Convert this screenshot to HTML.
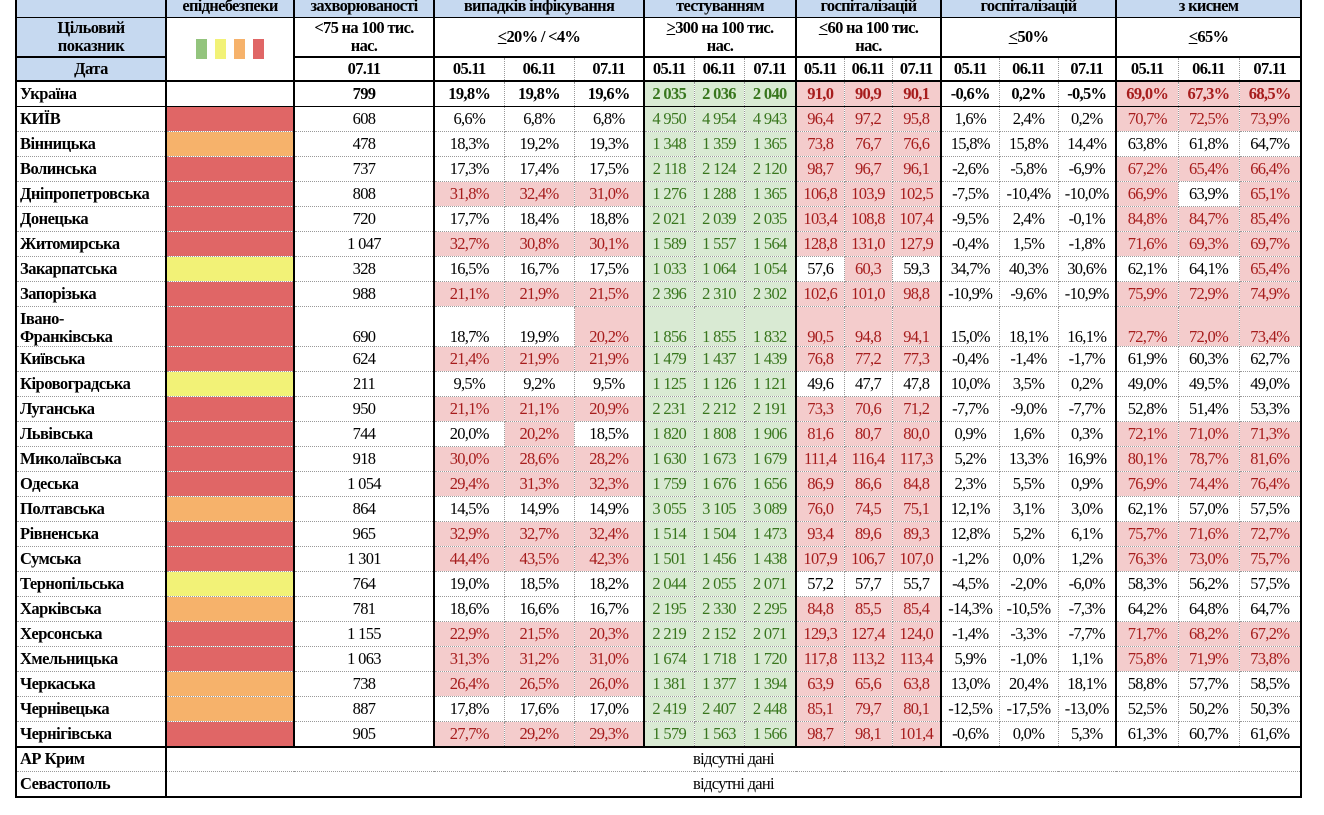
<!DOCTYPE html>
<html><head><meta charset="utf-8"><style>
html,body{margin:0;padding:0;background:#fff;width:1324px;height:815px;overflow:hidden}
table{position:absolute;left:15px;top:-6px;border-collapse:collapse;table-layout:fixed;font-family:"Liberation Serif","DejaVu Serif",serif;font-size:16.5px;letter-spacing:-0.7px;color:#000}
td{padding:0;text-align:center;border:1px dotted #999;white-space:nowrap;overflow:hidden;line-height:18px}
tr{height:25px}
td.n{text-align:left;padding-left:3px;font-weight:bold;border-left:2px solid #000;border-right:2px solid #000;letter-spacing:-0.5px}
.h td{background:#c6d9f0;font-weight:bold;border:1px solid #000;border-left:2px solid #000;border-right:2px solid #000}
.bl{border-left:2px solid #000}
.br{border-right:2px solid #000}
.b{font-weight:bold}
.r{background:#f4cccc;color:#a61c1c}
.g{background:#d9ead3;color:#38761d}
.R{background:#e06666}.O{background:#f6b26b}.Y{background:#f2f277}.G{background:#93c47d}
.hd td{font-weight:bold;border-top:2px solid #000;border-bottom:2px solid #000}
.ua td{border-top:2px solid #000;border-bottom:1px solid #000;font-weight:bold}
.tk td{border-top:2px solid #000}
.last td{border-bottom:2px solid #000}
.blue{background:#c6d9f0}
.sq{display:inline-block;width:11px;height:20px;margin:0 4px;vertical-align:middle}
</style></head><body>
<table>
<colgroup><col style="width:150px"><col style="width:128px"><col style="width:140px"><col style="width:70px"><col style="width:70px"><col style="width:70px"><col style="width:50px"><col style="width:50px"><col style="width:52px"><col style="width:48px"><col style="width:48px"><col style="width:49px"><col style="width:58px"><col style="width:59px"><col style="width:58px"><col style="width:62px"><col style="width:61px"><col style="width:62px"></colgroup>
<tr class="h" style="height:23px"><td></td><td>епіднебезпеки</td><td>захворюваності</td><td colspan="3">випадків інфікування</td><td colspan="3">тестуванням</td><td colspan="3">госпіталізацій</td><td colspan="3">госпіталізацій</td><td colspan="3">з киснем</td></tr>
<tr style="height:39px" class="b"><td class="n blue" style="text-align:center;padding:0;border-bottom:1px solid #000">Цільовий<br>показник</td><td rowspan="2" class="br" style="border-bottom:2px solid #000"><span class="sq G"></span><span class="sq Y"></span><span class="sq O"></span><span class="sq R"></span></td><td class="br b">&lt;75 на 100 тис.<br>нас.</td><td colspan="3" class="br b"><u>&lt;</u>20% / &lt;4%</td><td colspan="3" class="br b"><u>&gt;</u>300 на 100 тис.<br>нас.</td><td colspan="3" class="br b"><u>&lt;</u>60 на 100 тис.<br>нас.</td><td colspan="3" class="br b"><u>&lt;</u>50%</td><td colspan="3" class="br b"><u>&lt;</u>65%</td></tr>
<tr class="hd" style="height:24px"><td class="n blue" style="text-align:center;padding:0">Дата</td><td class="br">07.11</td><td class="bl">05.11</td><td>06.11</td><td class="br">07.11</td><td>05.11</td><td>06.11</td><td class="br">07.11</td><td>05.11</td><td>06.11</td><td class="br">07.11</td><td>05.11</td><td>06.11</td><td class="br">07.11</td><td>05.11</td><td>06.11</td><td class="br">07.11</td></tr>
<tr class="ua" style="height:26px"><td class="n">Україна</td><td class="br"></td><td class="br">799</td><td>19,8%</td><td>19,8%</td><td class="br">19,6%</td><td class="g">2 035</td><td class="g">2 036</td><td class="g br">2 040</td><td class="r">91,0</td><td class="r">90,9</td><td class="r br">90,1</td><td>-0,6%</td><td>0,2%</td><td class="br">-0,5%</td><td class="r">69,0%</td><td class="r">67,3%</td><td class="r br">68,5%</td></tr>
<tr><td class="n">КИЇВ</td><td class="R br"></td><td class="br">608</td><td>6,6%</td><td>6,8%</td><td class="br">6,8%</td><td class="g">4 950</td><td class="g">4 954</td><td class="g br">4 943</td><td class="r">96,4</td><td class="r">97,2</td><td class="r br">95,8</td><td>1,6%</td><td>2,4%</td><td class="br">0,2%</td><td class="r">70,7%</td><td class="r">72,5%</td><td class="r br">73,9%</td></tr>
<tr><td class="n">Вінницька</td><td class="O br"></td><td class="br">478</td><td>18,3%</td><td>19,2%</td><td class="br">19,3%</td><td class="g">1 348</td><td class="g">1 359</td><td class="g br">1 365</td><td class="r">73,8</td><td class="r">76,7</td><td class="r br">76,6</td><td>15,8%</td><td>15,8%</td><td class="br">14,4%</td><td>63,8%</td><td>61,8%</td><td class="br">64,7%</td></tr>
<tr><td class="n">Волинська</td><td class="R br"></td><td class="br">737</td><td>17,3%</td><td>17,4%</td><td class="br">17,5%</td><td class="g">2 118</td><td class="g">2 124</td><td class="g br">2 120</td><td class="r">98,7</td><td class="r">96,7</td><td class="r br">96,1</td><td>-2,6%</td><td>-5,8%</td><td class="br">-6,9%</td><td class="r">67,2%</td><td class="r">65,4%</td><td class="r br">66,4%</td></tr>
<tr><td class="n">Дніпропетровська</td><td class="R br"></td><td class="br">808</td><td class="r">31,8%</td><td class="r">32,4%</td><td class="r br">31,0%</td><td class="g">1 276</td><td class="g">1 288</td><td class="g br">1 365</td><td class="r">106,8</td><td class="r">103,9</td><td class="r br">102,5</td><td>-7,5%</td><td>-10,4%</td><td class="br">-10,0%</td><td class="r">66,9%</td><td>63,9%</td><td class="r br">65,1%</td></tr>
<tr><td class="n">Донецька</td><td class="R br"></td><td class="br">720</td><td>17,7%</td><td>18,4%</td><td class="br">18,8%</td><td class="g">2 021</td><td class="g">2 039</td><td class="g br">2 035</td><td class="r">103,4</td><td class="r">108,8</td><td class="r br">107,4</td><td>-9,5%</td><td>2,4%</td><td class="br">-0,1%</td><td class="r">84,8%</td><td class="r">84,7%</td><td class="r br">85,4%</td></tr>
<tr><td class="n">Житомирська</td><td class="R br"></td><td class="br">1 047</td><td class="r">32,7%</td><td class="r">30,8%</td><td class="r br">30,1%</td><td class="g">1 589</td><td class="g">1 557</td><td class="g br">1 564</td><td class="r">128,8</td><td class="r">131,0</td><td class="r br">127,9</td><td>-0,4%</td><td>1,5%</td><td class="br">-1,8%</td><td class="r">71,6%</td><td class="r">69,3%</td><td class="r br">69,7%</td></tr>
<tr><td class="n">Закарпатська</td><td class="Y br"></td><td class="br">328</td><td>16,5%</td><td>16,7%</td><td class="br">17,5%</td><td class="g">1 033</td><td class="g">1 064</td><td class="g br">1 054</td><td>57,6</td><td class="r">60,3</td><td class="br">59,3</td><td>34,7%</td><td>40,3%</td><td class="br">30,6%</td><td>62,1%</td><td>64,1%</td><td class="r br">65,4%</td></tr>
<tr><td class="n">Запорізька</td><td class="R br"></td><td class="br">988</td><td class="r">21,1%</td><td class="r">21,9%</td><td class="r br">21,5%</td><td class="g">2 396</td><td class="g">2 310</td><td class="g br">2 302</td><td class="r">102,6</td><td class="r">101,0</td><td class="r br">98,8</td><td>-10,9%</td><td>-9,6%</td><td class="br">-10,9%</td><td class="r">75,9%</td><td class="r">72,9%</td><td class="r br">74,9%</td></tr>
<tr style="height:40px;vertical-align:bottom"><td class="n">Івано-<br>Франківська</td><td class="R br"></td><td class="br">690</td><td>18,7%</td><td>19,9%</td><td class="r br">20,2%</td><td class="g">1 856</td><td class="g">1 855</td><td class="g br">1 832</td><td class="r">90,5</td><td class="r">94,8</td><td class="r br">94,1</td><td>15,0%</td><td>18,1%</td><td class="br">16,1%</td><td class="r">72,7%</td><td class="r">72,0%</td><td class="r br">73,4%</td></tr>
<tr><td class="n">Київська</td><td class="R br"></td><td class="br">624</td><td class="r">21,4%</td><td class="r">21,9%</td><td class="r br">21,9%</td><td class="g">1 479</td><td class="g">1 437</td><td class="g br">1 439</td><td class="r">76,8</td><td class="r">77,2</td><td class="r br">77,3</td><td>-0,4%</td><td>-1,4%</td><td class="br">-1,7%</td><td>61,9%</td><td>60,3%</td><td class="br">62,7%</td></tr>
<tr><td class="n">Кіровоградська</td><td class="Y br"></td><td class="br">211</td><td>9,5%</td><td>9,2%</td><td class="br">9,5%</td><td class="g">1 125</td><td class="g">1 126</td><td class="g br">1 121</td><td>49,6</td><td>47,7</td><td class="br">47,8</td><td>10,0%</td><td>3,5%</td><td class="br">0,2%</td><td>49,0%</td><td>49,5%</td><td class="br">49,0%</td></tr>
<tr><td class="n">Луганська</td><td class="R br"></td><td class="br">950</td><td class="r">21,1%</td><td class="r">21,1%</td><td class="r br">20,9%</td><td class="g">2 231</td><td class="g">2 212</td><td class="g br">2 191</td><td class="r">73,3</td><td class="r">70,6</td><td class="r br">71,2</td><td>-7,7%</td><td>-9,0%</td><td class="br">-7,7%</td><td>52,8%</td><td>51,4%</td><td class="br">53,3%</td></tr>
<tr><td class="n">Львівська</td><td class="R br"></td><td class="br">744</td><td>20,0%</td><td class="r">20,2%</td><td class="br">18,5%</td><td class="g">1 820</td><td class="g">1 808</td><td class="g br">1 906</td><td class="r">81,6</td><td class="r">80,7</td><td class="r br">80,0</td><td>0,9%</td><td>1,6%</td><td class="br">0,3%</td><td class="r">72,1%</td><td class="r">71,0%</td><td class="r br">71,3%</td></tr>
<tr><td class="n">Миколаївська</td><td class="R br"></td><td class="br">918</td><td class="r">30,0%</td><td class="r">28,6%</td><td class="r br">28,2%</td><td class="g">1 630</td><td class="g">1 673</td><td class="g br">1 679</td><td class="r">111,4</td><td class="r">116,4</td><td class="r br">117,3</td><td>5,2%</td><td>13,3%</td><td class="br">16,9%</td><td class="r">80,1%</td><td class="r">78,7%</td><td class="r br">81,6%</td></tr>
<tr><td class="n">Одеська</td><td class="R br"></td><td class="br">1 054</td><td class="r">29,4%</td><td class="r">31,3%</td><td class="r br">32,3%</td><td class="g">1 759</td><td class="g">1 676</td><td class="g br">1 656</td><td class="r">86,9</td><td class="r">86,6</td><td class="r br">84,8</td><td>2,3%</td><td>5,5%</td><td class="br">0,9%</td><td class="r">76,9%</td><td class="r">74,4%</td><td class="r br">76,4%</td></tr>
<tr><td class="n">Полтавська</td><td class="O br"></td><td class="br">864</td><td>14,5%</td><td>14,9%</td><td class="br">14,9%</td><td class="g">3 055</td><td class="g">3 105</td><td class="g br">3 089</td><td class="r">76,0</td><td class="r">74,5</td><td class="r br">75,1</td><td>12,1%</td><td>3,1%</td><td class="br">3,0%</td><td>62,1%</td><td>57,0%</td><td class="br">57,5%</td></tr>
<tr><td class="n">Рівненська</td><td class="R br"></td><td class="br">965</td><td class="r">32,9%</td><td class="r">32,7%</td><td class="r br">32,4%</td><td class="g">1 514</td><td class="g">1 504</td><td class="g br">1 473</td><td class="r">93,4</td><td class="r">89,6</td><td class="r br">89,3</td><td>12,8%</td><td>5,2%</td><td class="br">6,1%</td><td class="r">75,7%</td><td class="r">71,6%</td><td class="r br">72,7%</td></tr>
<tr><td class="n">Сумська</td><td class="R br"></td><td class="br">1 301</td><td class="r">44,4%</td><td class="r">43,5%</td><td class="r br">42,3%</td><td class="g">1 501</td><td class="g">1 456</td><td class="g br">1 438</td><td class="r">107,9</td><td class="r">106,7</td><td class="r br">107,0</td><td>-1,2%</td><td>0,0%</td><td class="br">1,2%</td><td class="r">76,3%</td><td class="r">73,0%</td><td class="r br">75,7%</td></tr>
<tr><td class="n">Тернопільська</td><td class="Y br"></td><td class="br">764</td><td>19,0%</td><td>18,5%</td><td class="br">18,2%</td><td class="g">2 044</td><td class="g">2 055</td><td class="g br">2 071</td><td>57,2</td><td>57,7</td><td class="br">55,7</td><td>-4,5%</td><td>-2,0%</td><td class="br">-6,0%</td><td>58,3%</td><td>56,2%</td><td class="br">57,5%</td></tr>
<tr><td class="n">Харківська</td><td class="O br"></td><td class="br">781</td><td>18,6%</td><td>16,6%</td><td class="br">16,7%</td><td class="g">2 195</td><td class="g">2 330</td><td class="g br">2 295</td><td class="r">84,8</td><td class="r">85,5</td><td class="r br">85,4</td><td>-14,3%</td><td>-10,5%</td><td class="br">-7,3%</td><td>64,2%</td><td>64,8%</td><td class="br">64,7%</td></tr>
<tr><td class="n">Херсонська</td><td class="R br"></td><td class="br">1 155</td><td class="r">22,9%</td><td class="r">21,5%</td><td class="r br">20,3%</td><td class="g">2 219</td><td class="g">2 152</td><td class="g br">2 071</td><td class="r">129,3</td><td class="r">127,4</td><td class="r br">124,0</td><td>-1,4%</td><td>-3,3%</td><td class="br">-7,7%</td><td class="r">71,7%</td><td class="r">68,2%</td><td class="r br">67,2%</td></tr>
<tr><td class="n">Хмельницька</td><td class="R br"></td><td class="br">1 063</td><td class="r">31,3%</td><td class="r">31,2%</td><td class="r br">31,0%</td><td class="g">1 674</td><td class="g">1 718</td><td class="g br">1 720</td><td class="r">117,8</td><td class="r">113,2</td><td class="r br">113,4</td><td>5,9%</td><td>-1,0%</td><td class="br">1,1%</td><td class="r">75,8%</td><td class="r">71,9%</td><td class="r br">73,8%</td></tr>
<tr><td class="n">Черкаська</td><td class="O br"></td><td class="br">738</td><td class="r">26,4%</td><td class="r">26,5%</td><td class="r br">26,0%</td><td class="g">1 381</td><td class="g">1 377</td><td class="g br">1 394</td><td class="r">63,9</td><td class="r">65,6</td><td class="r br">63,8</td><td>13,0%</td><td>20,4%</td><td class="br">18,1%</td><td>58,8%</td><td>57,7%</td><td class="br">58,5%</td></tr>
<tr><td class="n">Чернівецька</td><td class="O br"></td><td class="br">887</td><td>17,8%</td><td>17,6%</td><td class="br">17,0%</td><td class="g">2 419</td><td class="g">2 407</td><td class="g br">2 448</td><td class="r">85,1</td><td class="r">79,7</td><td class="r br">80,1</td><td>-12,5%</td><td>-17,5%</td><td class="br">-13,0%</td><td>52,5%</td><td>50,2%</td><td class="br">50,3%</td></tr>
<tr><td class="n">Чернігівська</td><td class="R br"></td><td class="br">905</td><td class="r">27,7%</td><td class="r">29,2%</td><td class="r br">29,3%</td><td class="g">1 579</td><td class="g">1 563</td><td class="g br">1 566</td><td class="r">98,7</td><td class="r">98,1</td><td class="r br">101,4</td><td>-0,6%</td><td>0,0%</td><td class="br">5,3%</td><td>61,3%</td><td>60,7%</td><td class="br">61,6%</td></tr>
<tr class="tk"><td class="n">АР Крим</td><td colspan="17" class="br">відсутні дані</td></tr>
<tr class="last"><td class="n">Севастополь</td><td colspan="17" class="br">відсутні дані</td></tr>
</table>
</body></html>
